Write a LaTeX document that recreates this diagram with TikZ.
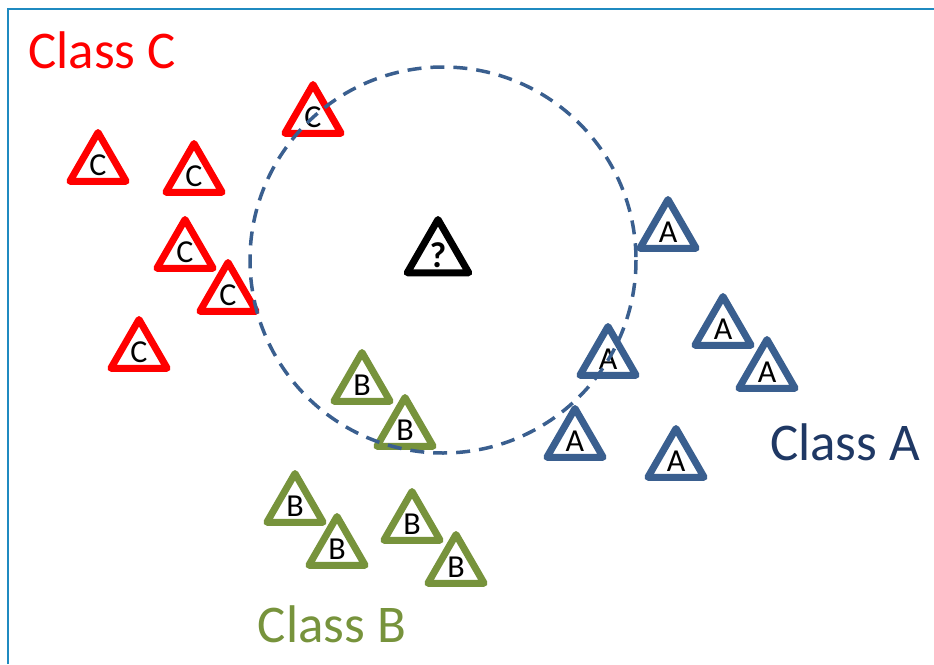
\documentclass[tikz,border=0pt]{standalone}
\usepackage{fontspec}
\setmainfont{Carlito}
\usetikzlibrary{shapes.geometric}
\definecolor{clsred}{RGB}{255,0,0}
\definecolor{clsblue}{RGB}{58,95,143}
\definecolor{clsnavy}{RGB}{31,56,100}
\definecolor{clsgreen}{RGB}{119,147,60}
\definecolor{frameblue}{RGB}{31,138,192}
\begin{document}
\begin{tikzpicture}[x=1pt, y=-1pt,
  tri/.style={regular polygon, regular polygon sides=3, minimum size=65pt, inner sep=0pt,
    line width=7pt, line join=round, fill=white, font=\fontsize{32}{34}\selectfont},
  ctri/.style={tri, draw=clsred},
  atri/.style={tri, draw=clsblue},
  btri/.style={tri, draw=clsgreen},
  qtri/.style={tri, draw=black, minimum size=69pt, font=\fontsize{36}{38}\selectfont\bfseries},
  cls/.style={font=\fontsize{53}{58}\selectfont, inner sep=0pt}]
  \useasboundingbox (0,0) rectangle (934,664);
  \draw[frameblue, line width=2.5pt] (8,664) -- (8,9) -- (934,9);

  % class C
  \node[ctri] (c1) at (98,165) {C};
  \node[ctri] (c2) at (194,176) {C};
  \node[ctri] (c3) at (313,117) {C};
  \node[ctri] (c4) at (185,252) {C};
  \node[ctri] (c5) at (228,295) {C};
  \node[ctri] (c6) at (139,352) {C};

  % class A
  \node[atri] (a1) at (668,232) {A};
  \node[atri] (a2) at (723,329) {A};
  \node[atri] (a3) at (767,372) {A};
  \node[atri] (a4) at (608,359) {A};
  \node[atri] (a5) at (575,441) {A};
  \node[atri] (a6) at (676,461) {A};

  % class B
  \node[btri] (b1) at (362,385) {B};
  \node[btri] (b2) at (405,430) {B};
  \node[btri] (b3) at (295,506) {B};
  \node[btri] (b4) at (337,549) {B};
  \node[btri] (b5) at (412,524) {B};
  \node[btri] (b6) at (456,567) {B};

  % unknown sample
  \node[qtri] (q) at (438,255) {?};
  \draw[clsblue, line width=3.5pt, dash pattern=on 14pt off 9pt] (443,260) circle (193);

  \node[cls, text=clsred] (lc) at (102,50) {Class C};
  \node[cls, text=clsnavy] (la) at (845,442) {Class A};
  \node[cls, text=clsgreen] (lb) at (332,624) {Class B};
\end{tikzpicture}
\end{document}
